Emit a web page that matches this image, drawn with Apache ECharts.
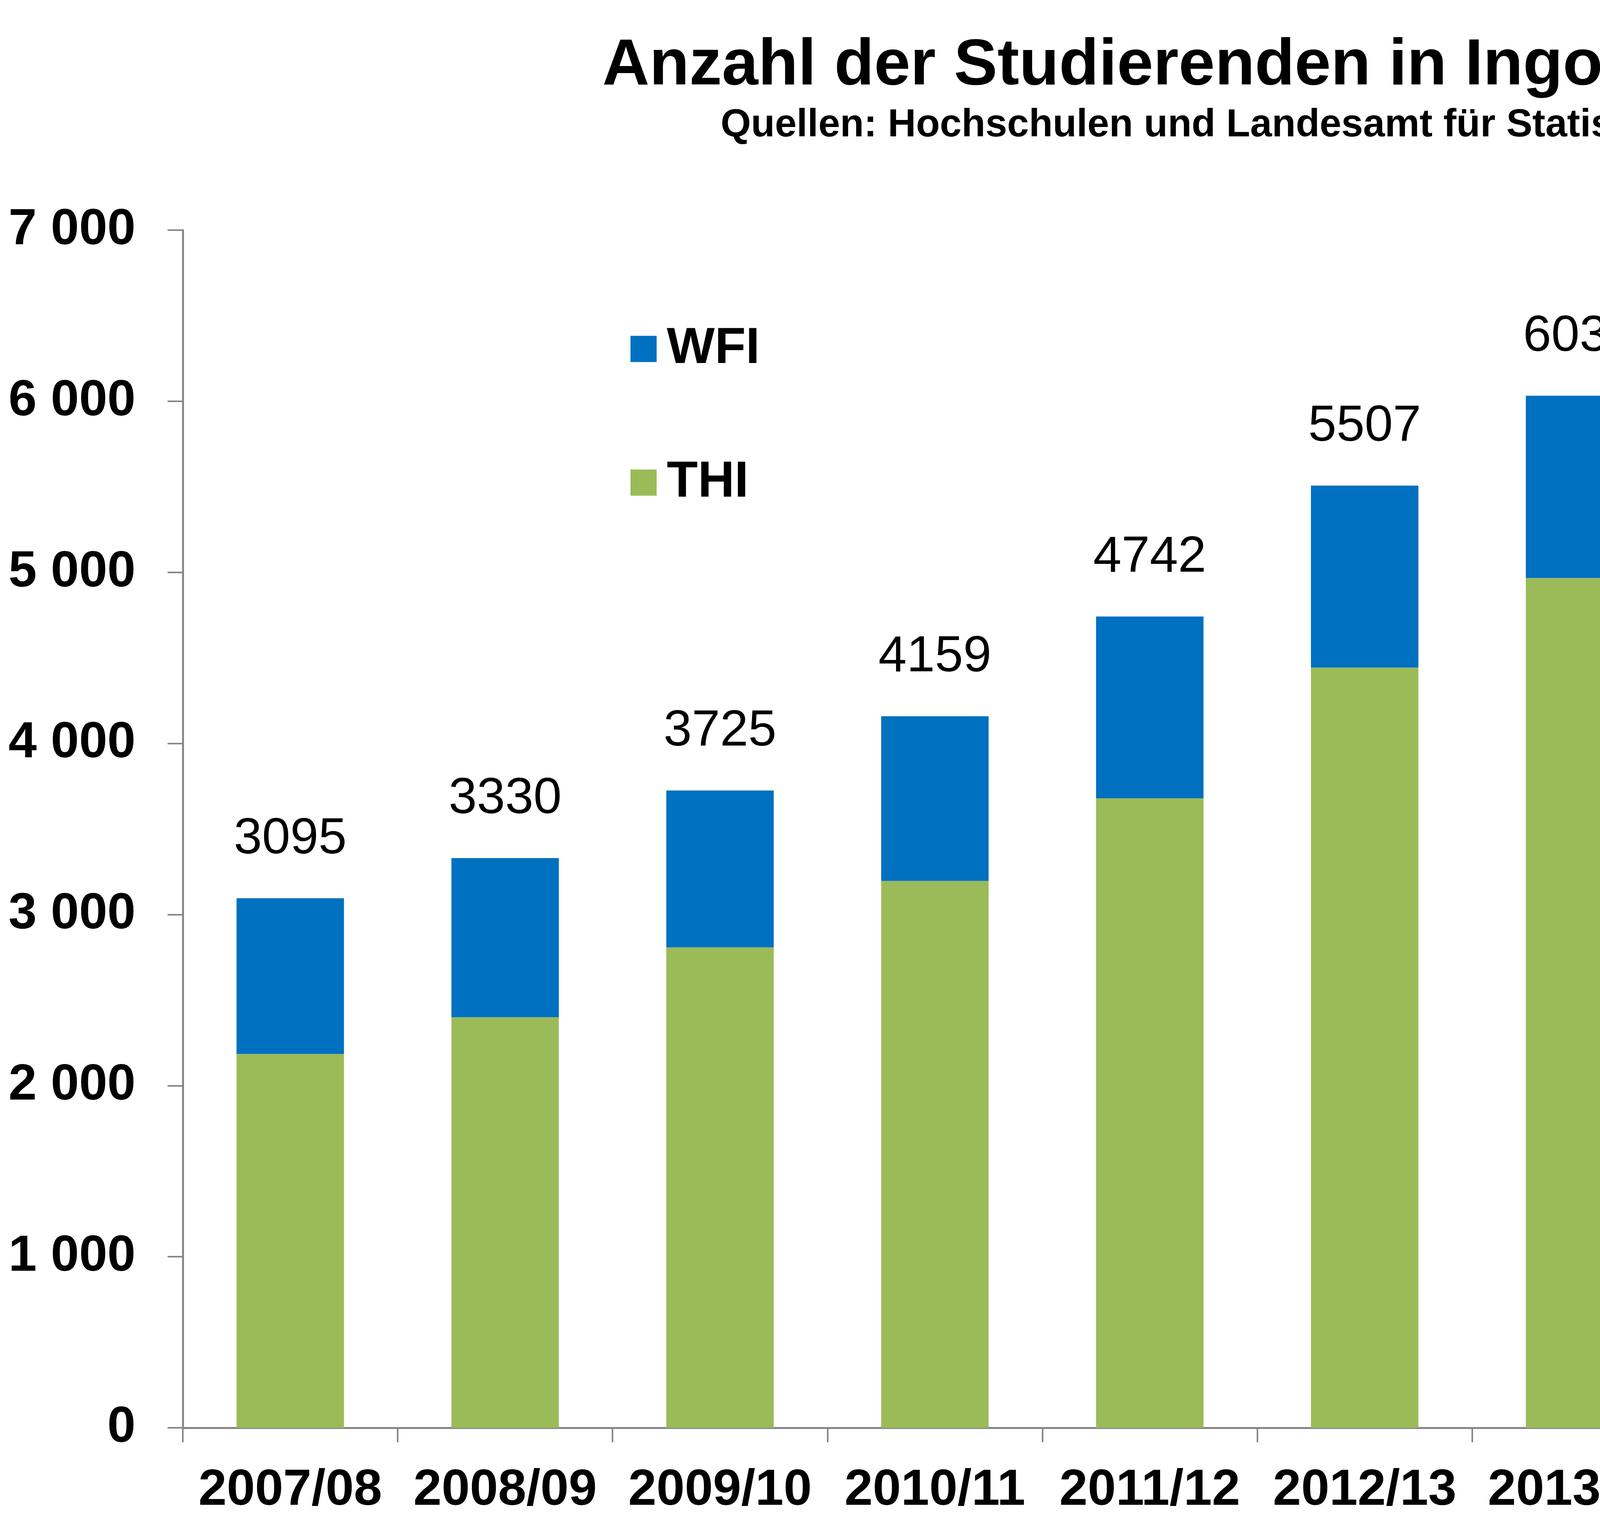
<!DOCTYPE html>
<html>
<head>
<meta charset="utf-8">
<script src="https://cdn.jsdelivr.net/npm/echarts@6/dist/echarts.min.js"></script>
<style>html,body{margin:0;padding:0;background:#fff;}#c{width:6090px;height:3936px;}</style>
</head>
<body>
<div id="c"></div>
<script>
const categories = ['2007/08','2008/09','2009/10','2010/11','2011/12','2012/13','2013/14','2014/15','2015/16','2016/17'];
const totals = [3095, 3330, 3725, 4159, 4742, 5507, 6032, 6250, 6305, 6426];
const thi = [2185, 2400, 2808, 3196, 3679, 4443, 4967, 5150, 5210, 5328];
const wfi = [910, 930, 917, 963, 1063, 1064, 1065, 1100, 1095, 1098];
const yTickLabels = ['0','1 000','2 000','3 000','4 000','5 000','6 000','7 000'];

const FONT = 'Liberation Sans, Arial, sans-serif';
const chart = echarts.init(document.getElementById('c'));
chart.setOption({
  animation: false,
  backgroundColor: '#ffffff',
  title: [
    {text: 'Anzahl der Studierenden in Ingolstadt', left: 'center', top: 81,
     textStyle: {fontFamily: FONT, fontWeight: 'bold', fontSize: 167, lineHeight: 167, color: '#000'}},
    {text: 'Quellen: Hochschulen und Landesamt für Statistik', left: 'center', top: 266,
     textStyle: {fontFamily: FONT, fontWeight: 'bold', fontSize: 100, lineHeight: 100, color: '#000'}}
  ],
  legend: {
    orient: 'vertical', left: 1614, top: 828, padding: 0,
    itemWidth: 67, itemHeight: 67, itemGap: 212, icon: 'rect',
    data: ['WFI', 'THI'],
    textStyle: {fontFamily: FONT, fontWeight: 'bold', fontSize: 130, lineHeight: 130, color: '#000', padding: [0,0,0,21]}
  },
  grid: {left: 468, right: 121, top: 589, bottom: 282, containLabel: false},
  xAxis: {
    type: 'category', data: categories,
    axisLine: {show: true, lineStyle: {color: '#868686', width: 5}},
    axisTick: {show: true, length: 37, lineStyle: {color: '#868686', width: 4}},
    axisLabel: {fontFamily: FONT, fontWeight: 'bold', fontSize: 130, color: '#000', margin: 96, interval: 0}
  },
  yAxis: {
    type: 'value', min: 0, max: 7000, interval: 1000,
    splitLine: {show: false},
    axisLine: {show: true, lineStyle: {color: '#868686', width: 5}},
    axisTick: {show: true, length: 39, lineStyle: {color: '#868686', width: 4}},
    axisLabel: {fontFamily: FONT, fontWeight: 'bold', fontSize: 130, color: '#000', margin: 121,
      formatter: function (v) { return yTickLabels[Math.round(v / 1000)]; }}
  },
  series: [
    {name: 'THI', type: 'bar', stack: 's', data: thi, barWidth: '50%',
     itemStyle: {color: '#9BBB59'}},
    {name: 'WFI', type: 'bar', stack: 's', data: wfi, barWidth: '50%',
     itemStyle: {color: '#0070C0'},
     label: {show: true, position: 'top', distance: 86, fontFamily: FONT, fontSize: 130, color: '#000',
       formatter: function (p) { return String(totals[p.dataIndex]); }}}
  ]
});
</script>
</body>
</html>
